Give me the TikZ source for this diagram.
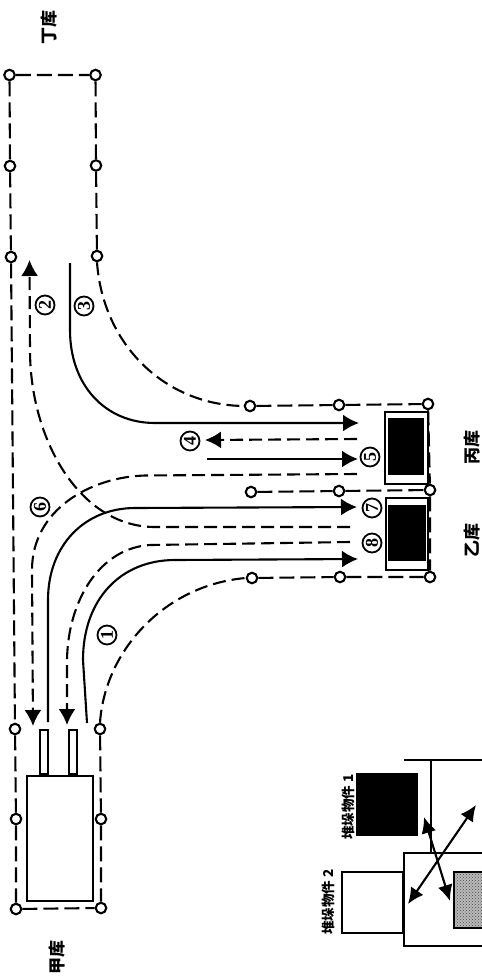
\documentclass[tikz,border=0pt]{standalone}
\usepackage{fontspec}
\setmainfont{Liberation Serif}
\newfontfamily\cjk{Noto Sans CJK SC}
\usetikzlibrary{arrows.meta,patterns}
\tikzset{
  marker/.style={circle,draw,line width=2.1pt,fill=white,minimum size=10.5pt,inner sep=0pt},
  bnd/.style={line width=2.1pt,dash pattern=on 15pt off 6pt},
  dline/.style={line width=2.1pt,dash pattern=on 13pt off 6pt},
  sline/.style={line width=2.1pt},
  head/.style={-{Latex[length=16pt,width=17pt]}},
  dbl/.style={{Latex[length=16pt,width=15pt]}-{Latex[length=16pt,width=15pt]},line width=2.1pt},
  num/.style={circle,draw,line width=1.8pt,minimum size=19pt,inner sep=0pt,rotate=90,font=\bfseries\fontsize{18pt}{18pt}\selectfont},
  store/.style={rotate=90,font=\cjk\bfseries\fontsize{17pt}{17pt}\selectfont,inner sep=0pt},
  obj/.style={rotate=90,font=\cjk\bfseries\fontsize{13.5pt}{13.5pt}\selectfont,inner sep=0pt},
  box/.style={draw,line width=2.1pt,fill=white,inner sep=0pt},
}
\begin{document}
\begin{tikzpicture}[x=1pt,y=-1pt]
\useasboundingbox (0,0) rectangle (482,978);
% boundary markers
\node[marker] (d1) at (9.5,75) {};
\node[marker] (d2) at (95.5,75) {};
\node[marker] (d3) at (10,166) {};
\node[marker] (d4) at (96,165.5) {};
\node[marker] (d5) at (11,257) {};
\node[marker] (d6) at (97,256) {};
\node[marker] (c1) at (250,406) {};
\node[marker] (c2) at (339,405) {};
\node[marker] (c3) at (428,404) {};
\node[marker] (m1) at (251,492) {};
\node[marker] (m2) at (339,491) {};
\node[marker] (m3) at (430,490) {};
\node[marker] (b1) at (252,578) {};
\node[marker] (b2) at (340,577) {};
\node[marker] (b3) at (430,577) {};
\node[marker] (a1) at (15,729) {};
\node[marker] (a2) at (100,729) {};
\node[marker] (a3) at (16,819) {};
\node[marker] (a4) at (101,819) {};
\node[marker] (a5) at (16,909) {};
\node[marker] (a6) at (101,908) {};
% boundary lines
\draw[bnd] (d1)--(d2) (d1)--(d3) (d3)--(d5) (d2)--(d4) (d4)--(d6);
\draw[bnd] (d5)--(a1) (a1)--(a3) (a3)--(a5) (a5)--(a6) (a2)--(a4) (a4)--(a6);
\draw[bnd] (c1)--(c2) (c2)--(c3) (m1)--(m2) (m2)--(m3) (b1)--(b2) (b2)--(b3);
\draw[bnd] (c3)--(m3) (m3)--(b3);
\draw[dline] (d6.south) .. controls (103,345) and (165,405) .. (c1.west);
\draw[dline] (a2.north) .. controls (105,650) and (165,585) .. (b1.west);
% stores
\node[box,anchor=north west,minimum width=66pt,minimum height=125pt] (jia) at (26,775) {};
\node[box,anchor=south west,minimum width=8pt,minimum height=44pt,line width=1.8pt] (p1) at (39,775) {};
\node[box,anchor=south west,minimum width=8pt,minimum height=44pt,line width=1.8pt] (p2) at (68,775) {};
\node[box,anchor=north west,minimum width=43pt,minimum height=72pt] (bingo) at (384,411) {};
\node[fill=black,anchor=north west,minimum width=36pt,minimum height=57pt,inner sep=0pt] (bingi) at (388,418) {};
\node[box,anchor=north west,minimum width=42pt,minimum height=72pt] (yio) at (385,497) {};
\node[fill=black,anchor=north west,minimum width=38pt,minimum height=56pt,inner sep=0pt] (yii) at (388,505) {};
% routes
\coordinate (r3a) at (70,263); \coordinate (r3b) at (359,423);
\draw[sline,head] (r3a) -- (70,330) .. controls (70,385) and (105,423) .. (155,423) -- (r3b);
\coordinate (r4a) at (357,439); \coordinate (r4b) at (205,440);
\draw[dline,head] (r4a) -- (r4b);
\coordinate (r5a) at (207,459); \coordinate (r5b) at (358,459);
\draw[sline,head] (r5a) -- (r5b);
\coordinate (r6a) at (357,474); \coordinate (r6b) at (33,726);
\draw[dline,head] (r6a) -- (145,475.5) .. controls (90,477) and (32,510) .. (32,570) -- (r6b);
\coordinate (r2a) at (350,527); \coordinate (r2b) at (29.5,260);
\draw[dline,head] (r2a) -- (155,527) .. controls (80,527) and (30,440) .. (30,350) -- (r2b);
\coordinate (r7a) at (48,722); \coordinate (r7b) at (357,507);
\draw[sline,head] (r7a) -- (48,600) .. controls (48,545) and (85,508) .. (135,508) -- (r7b);
\coordinate (r8a) at (350,542); \coordinate (r8b) at (67,725);
\draw[dline,head] (r8a) -- (150,545) .. controls (100,548) and (68,600) .. (67,660) -- (r8b);
\coordinate (r1a) at (87,723); \coordinate (r1b) at (358,559);
\draw[sline,head] (r1a) -- (83,660) .. controls (83,600) and (120,560) .. (175,560) -- (r1b);
% numbers
\node[num] (n1) at (107,635) {1};
\node[num] (n2) at (45,305) {2};
\node[num] (n3) at (84,306) {3};
\node[num] (n4) at (190,441) {4};
\node[num] (n5) at (370,457) {5};
\node[num] (n6) at (40,507) {6};
\node[num] (n7) at (372,508) {7};
\node[num] (n8) at (372,543) {8};
% store labels
\node[store] (ding) at (49,27) {丁库};
\node[store] (bing) at (472,447) {丙库};
\node[store] (yi) at (472,540) {乙库};
\node[store] (jial) at (57,957) {甲库};
% lower right figure
\node[fill=black,anchor=north west,minimum width=62pt,minimum height=63pt,inner sep=0pt] (obj1) at (356,773) {};
\node[box,anchor=north west,minimum width=61pt,minimum height=61pt] (obj2) at (341,871) {};
\coordinate (t1) at (404,760); \coordinate (t2) at (482,760); \coordinate (t3) at (431,760); \coordinate (t4) at (431,853);
\coordinate (u1) at (482,853); \coordinate (u2) at (404,853); \coordinate (u3) at (404,946); \coordinate (u4) at (482,946);
\draw[sline] (t1)--(t2) (t3)--(t4);
\draw[sline] (u1)--(u2)--(u3)--(u4);
\path[fill=gray!55] (482,872) -- (454,872) -- (454,928) -- (482,928);
\path[pattern=crosshatch dots,pattern color=black!70] (482,872) -- (454,872) -- (454,928) -- (482,928);
\draw[line width=1.4pt] (482,872) -- (454,872) -- (454,928) -- (482,928);
\coordinate (v1) at (408,904); \coordinate (v2) at (476,805);
\coordinate (w1) at (424,817); \coordinate (w2) at (450,901);
\draw[dbl] (v1)--(v2);
\draw[dbl] (w1)--(w2);
\node[obj] (lab1) at (348,807) {堆垛物件 1};
\node[obj] (lab2) at (328,902) {堆垛物件 2};
\end{tikzpicture}
\end{document}
